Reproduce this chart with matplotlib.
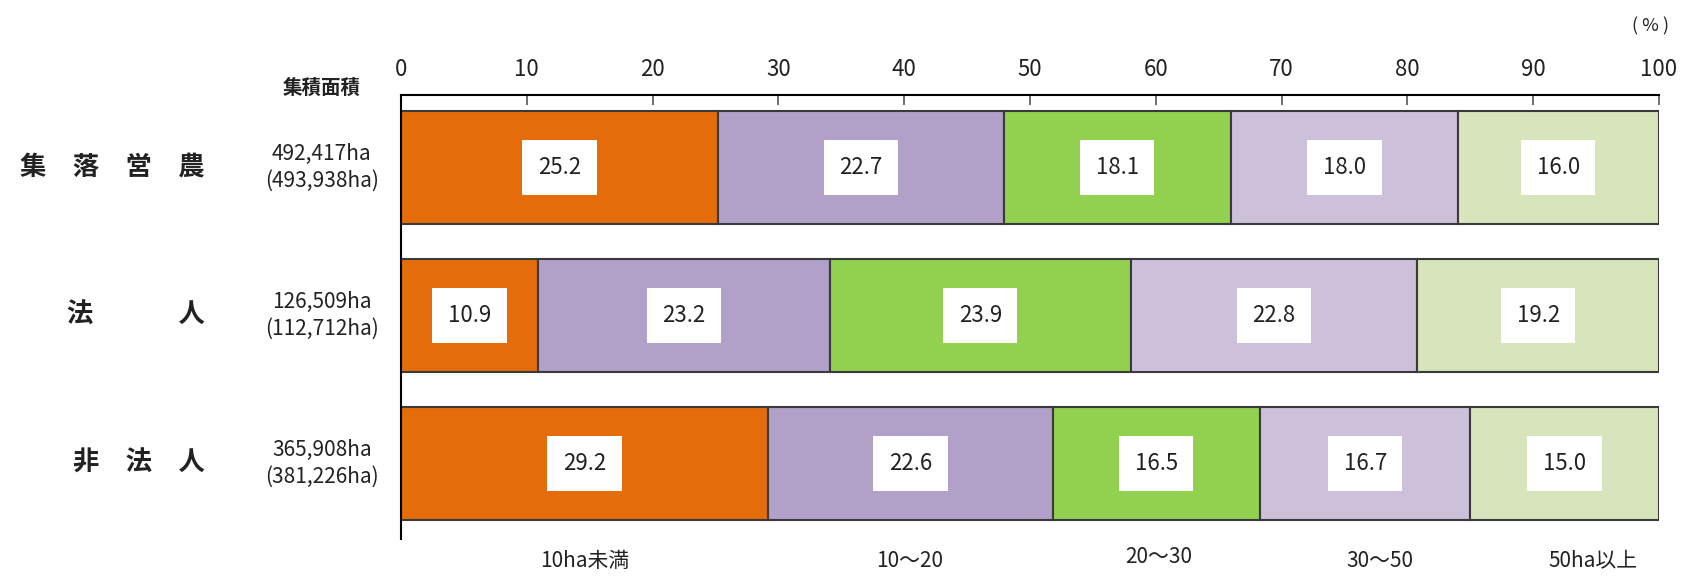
import matplotlib
matplotlib.use("Agg")
import matplotlib.pyplot as plt
import numpy as np

plt.rcParams['font.family'] = ['Noto Sans CJK JP', 'DejaVu Sans']

# ---- data ----
groups = ['集　落　営　農', '法　　　 人', '非　法　人']
areas = ['492,417ha\n(493,938ha)', '126,509ha\n(112,712ha)', '365,908ha\n(381,226ha)']
classes = ['10ha未満', '10～20', '20～30', '30～50', '50ha以上']
v_shuraku = [25.2, 22.7, 18.1, 18.0, 16.0]
v_hojin = [10.9, 23.2, 23.9, 22.8, 19.2]
v_hihojin = [29.2, 22.6, 16.5, 16.7, 15.0]
xticks = [0, 10, 20, 30, 40, 50, 60, 70, 80, 90, 100]

values = np.array([v_shuraku, v_hojin, v_hihojin])
colors = ['#E46C0A', '#B1A0C7', '#92D050', '#CCC0DA', '#D8E4BC']
legend_x = [14.6, 40.4, 60.2, 77.8, 94.8]
legend_y = [2.66, 2.66, 2.63, 2.66, 2.66]

fig = plt.figure(figsize=(16.89, 5.81), dpi=100)
ax = fig.add_axes([0.2374, 0.0723, 0.7448, 0.7642])

ypos = np.arange(len(groups))
left = np.zeros(len(groups))
for j in range(len(classes)):
    ax.barh(ypos, values[:, j], left=left, height=0.76, color=colors[j],
            edgecolor='#3a3a3a', linewidth=1.5, zorder=2)
    for i in range(len(groups)):
        ax.text(left[i] + values[i, j] / 2, ypos[i], f"{values[i, j]:.1f}",
                ha='center', va='center', fontsize=16, color='#222222', zorder=3,
                bbox=dict(boxstyle='square,pad=0.7', facecolor='white', edgecolor='none'))
    left += values[:, j]

ax.set_xlim(0, 100)
ax.set_ylim(2.51, -0.49)
ax.xaxis.tick_top()
ax.set_xticks(xticks)
ax.set_xticklabels([str(t) for t in xticks], fontsize=16, color='#222222')
ax.tick_params(axis='x', direction='in', length=7, width=1.2, color='#555555', pad=10)
ax.set_yticks([])
for s in ['right', 'bottom']:
    ax.spines[s].set_visible(False)
ax.spines['top'].set_linewidth(1.5)
ax.spines['left'].set_linewidth(1.5)

# left labels
for i in range(len(groups)):
    ax.text(-15.6, ypos[i], groups[i], ha='right', va='center', fontsize=19,
            fontweight='bold', color='#222222', clip_on=False)
    ax.text(-6.3, ypos[i], areas[i], ha='center', va='center', fontsize=15,
            color='#222222', linespacing=1.3, clip_on=False)
ax.text(-6.3, -0.47, '集積面積', ha='center', va='bottom', fontsize=14,
        fontweight='bold', color='#222222', clip_on=False)

# percent unit
fig.text(0.988, 0.955, '( % )', ha='right', va='center', fontsize=13, color='#222222')

# class labels below
for k, name in enumerate(classes):
    ax.text(legend_x[k], legend_y[k], name, ha='center', va='center', fontsize=15,
            color='#222222', clip_on=False)

fig.savefig('out.png', dpi=100)
